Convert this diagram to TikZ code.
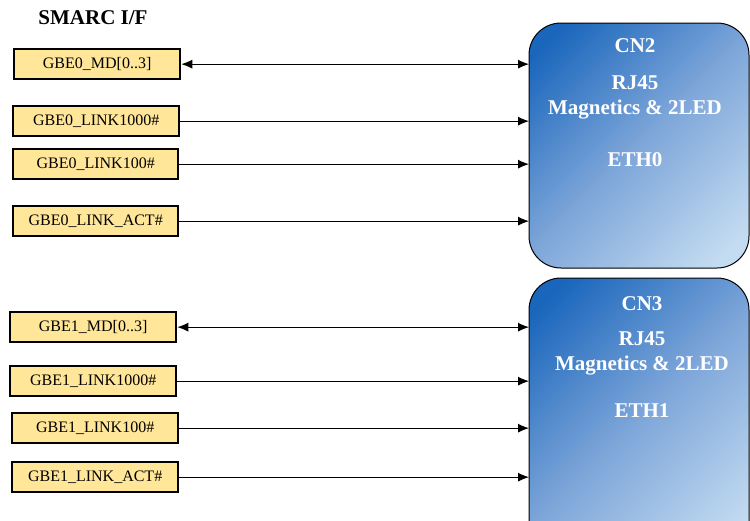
\documentclass[tikz,border=0pt]{standalone}
\usepackage{fontspec}
\setmainfont{Liberation Serif}
\usetikzlibrary{arrows.meta}
\definecolor{sigfill}{HTML}{FFE699}
\definecolor{conndark}{HTML}{1A66BC}
\definecolor{connmid}{HTML}{7EA6D9}
\definecolor{connlight}{HTML}{C4DCF1}
% linear diagonal fill for the connector blocks
\pgfdeclareverticalshading{connshade}{100bp}{color(0bp)=(connlight); color(20bp)=(connlight); color(50bp)=(connmid); color(80bp)=(conndark); color(100bp)=(conndark)}
\tikzset{
  x=1pt, y=-1pt,
  sig/.style={draw=black, line width=2.3pt, fill=sigfill, font=\fontsize{16}{18}\selectfont},
  conn/.style={draw=black, line width=1pt, rounded corners=32pt,
    shading=connshade, shading angle=45},
  conntext/.style={text=white, font=\bfseries\fontsize{21}{25}\selectfont, align=center},
  wire/.style={line width=0.9pt, -{Latex[length=11pt,width=9pt]}},
  bus/.style={line width=0.9pt, {Latex[length=11pt,width=9pt]}-{Latex[length=11pt,width=9pt]}},
}
\newcommand{\sigbox}[5]{%
  \node[sig, minimum width=#3-#2, minimum height=30pt, inner sep=0pt, anchor=north west] (#1) at (#2,#4) {#5};}
\begin{document}
\begin{tikzpicture}
\useasboundingbox (0,0) rectangle (750,520);
\clip (0,0) rectangle (750,520);

% title
\node[font=\bfseries\fontsize{21}{24}\selectfont] (title) at (93,18) {SMARC I/F};

% connector blocks
\path[conn] (529,23) rectangle (749,268);
\path[conn] (529,278) rectangle (749,560);

\node[conntext] (cn2a) at (635,46) {CN2};
\node[conntext] (cn2b) at (635,97) {RJ45\\Magnetics \& 2LED};
\node[conntext] (cn2c) at (635,160) {ETH0};
\node[conntext] (cn3a) at (642,304) {CN3};
\node[conntext] (cn3b) at (642,353) {RJ45\\Magnetics \& 2LED};
\node[conntext] (cn3c) at (642,411) {ETH1};

% signal boxes
\sigbox{g0md}{13}{179}{48}{GBE0\_MD[0..3]}
\sigbox{g0l1000}{12}{178}{105}{GBE0\_LINK1000\#}
\sigbox{g0l100}{12}{177}{148}{GBE0\_LINK100\#}
\sigbox{g0act}{12}{177}{205}{GBE0\_LINK\_ACT\#}
\sigbox{g1md}{9}{175}{311}{GBE1\_MD[0..3]}
\sigbox{g1l1000}{9}{175}{365}{GBE1\_LINK1000\#}
\sigbox{g1l100}{11}{177}{412}{GBE1\_LINK100\#}
\sigbox{g1act}{11}{177}{461}{GBE1\_LINK\_ACT\#}

% wires into the connectors
\coordinate (e1) at (529,64);
\coordinate (e2) at (529,120);
\coordinate (e3) at (529,162);
\coordinate (e4) at (529,219);
\coordinate (f1) at (529,325);
\coordinate (f2) at (529,381);
\coordinate (f3) at (529,428);
\coordinate (f4) at (529,477);
\draw[bus] (g0md.east) -- (g0md.east -| e1);
\draw[wire] (g0l1000.east) -- (g0l1000.east -| e2);
\draw[wire] (g0l100.east) -- (g0l100.east -| e3);
\draw[wire] (g0act.east) -- (g0act.east -| e4);
\draw[bus] (g1md.east) -- (g1md.east -| f1);
\draw[wire] (g1l1000.east) -- (g1l1000.east -| f2);
\draw[wire] (g1l100.east) -- (g1l100.east -| f3);
\draw[wire] (g1act.east) -- (g1act.east -| f4);
\end{tikzpicture}
\end{document}
